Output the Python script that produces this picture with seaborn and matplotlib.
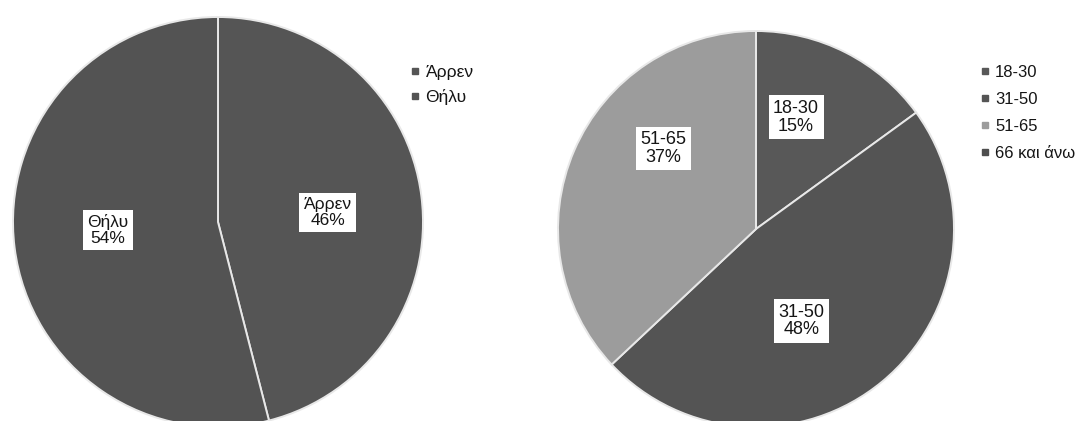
import numpy as np
import matplotlib
matplotlib.use("Agg")
import matplotlib.pyplot as plt
from matplotlib.lines import Line2D
import seaborn as sns

# Gender split
gender_labels = ["Άρρεν", "Θήλυ"]
gender_values = [46, 54]
gender_colors = ["#555555", "#535353"]

# Age groups
age_labels = ["18-30", "31-50", "51-65", "66 και άνω"]
age_values = [15, 48, 37, 0]
age_colors = ["#585858", "#545454", "#9c9c9c", "#4e4e4e"]

sns.set_theme(style="white")
plt.rcParams["font.family"] = ["Liberation Sans", "DejaVu Sans"]

W, H = 1080, 421
fig = plt.figure(figsize=(W / 100, H / 100), dpi=100)
fig.patch.set_facecolor("white")


def pie_axes(cx, cy, r):
    """Axes holding a unit pie whose centre/radius are given in pixels."""
    return fig.add_axes([(cx - r) / W, (H - cy - r) / H, 2 * r / W, 2 * r / H])


def draw_pie(ax, labels, values, colors, label_r, fontsize):
    wedges, _ = ax.pie(values, colors=colors, startangle=90, counterclock=False,
                       radius=1.0, normalize=True,
                       wedgeprops=dict(edgecolor="#e8e8e8", linewidth=1.4))
    ax.set_xlim(-1, 1)
    ax.set_ylim(-1, 1)
    ax.set_aspect("equal")
    ax.axis("off")
    total = float(sum(values))
    for w, lab, v, dr in zip(wedges, labels, values, label_r):
        if v <= 0:
            continue
        mid = np.deg2rad((w.theta1 + w.theta2) / 2.0)
        x, y = dr[0] * np.cos(mid), dr[0] * np.sin(mid)
        ax.text(x + dr[1], y + dr[2], f"{lab}\n{round(100 * v / total):d}%",
                ha="center", va="center", fontsize=fontsize, color="#151515",
                linespacing=1.05,
                bbox=dict(boxstyle="square,pad=0.25", facecolor="white",
                          edgecolor="none"))
    return wedges


def legend_at(labels, colors, x, y, fontsize, spacing):
    handles = [Line2D([0], [0], marker="s", linestyle="none", markersize=5,
                      markerfacecolor=c, markeredgecolor=c) for c in colors]
    fig.legend(handles, labels, loc="upper left",
               bbox_to_anchor=(x / W, 1 - y / H), frameon=False,
               fontsize=fontsize, handlelength=0.6, handletextpad=0.3,
               labelspacing=spacing, borderaxespad=0, borderpad=0,
               labelcolor="#151515")


# Left pie: gender
ax1 = pie_axes(218, 222, 205)
draw_pie(ax1, gender_labels, gender_values, gender_colors,
         [(0.54, 0.0, -0.02), (0.54, 0.0, 0.03)], 12.5)
legend_at(gender_labels, gender_colors, 410, 65, 12.5, 0.5)

# Right pie: age groups
ax2 = pie_axes(756, 229, 198)
draw_pie(ax2, age_labels, age_values, age_colors,
         [(0.6, -0.07, 0.03), (0.55, -0.12, -0.04), (0.62, 0.1, 0.16), (0.6, 0, 0)],
         13)
legend_at(age_labels, age_colors, 980, 65, 12, 0.72)

fig.savefig("out.png", dpi=100, facecolor="white")
